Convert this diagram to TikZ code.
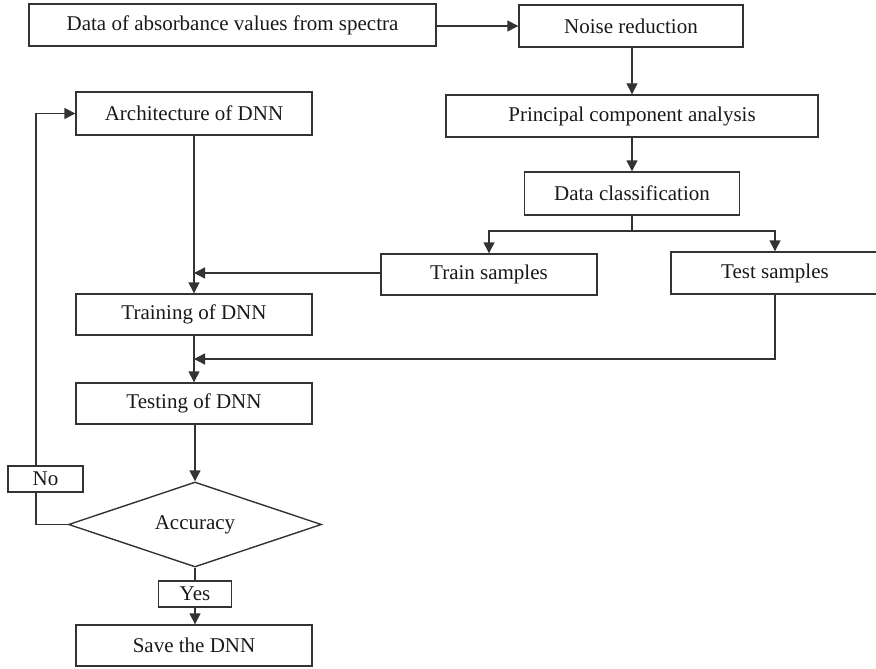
\documentclass[tikz,border=0pt]{standalone}
\usepackage{fontspec}
\setmainfont{Liberation Serif}
\usetikzlibrary{arrows.meta,shapes.geometric}
\begin{document}
\begin{tikzpicture}[x=1pt,y=-1pt,
  every node/.style={font=\fontsize{21}{24}\selectfont, text=black!90},
  box/.style={draw=black!80, line width=1.4pt, rectangle, inner sep=0pt, anchor=center},
  lbl/.style={draw=black!80, line width=1.4pt, rectangle, inner sep=0pt, minimum width=75pt, minimum height=26pt},
  dec/.style={draw=black!80, line width=1.4pt, diamond, aspect=3, inner sep=0pt, minimum width=253pt, minimum height=85pt},
  conn/.style={draw=black!80, line width=1.4pt},
  arr/.style={conn, -{Triangle[length=11pt,width=11pt]}}
]
\useasboundingbox (0,0) rectangle (876,669);
\node[box, minimum width=407pt, minimum height=42pt] (src) at (232.5,25) {Data of absorbance values from spectra};
\node[box, minimum width=224pt, minimum height=42pt] (noise) at (631,26) {Noise reduction};
\node[box, minimum width=236pt, minimum height=43pt] (arch) at (194,113.5) {Architecture of DNN};
\node[box, minimum width=372pt, minimum height=42pt] (pca) at (632,116) {Principal component analysis};
\node[box, minimum width=215pt, minimum height=43pt] (dc) at (632,193.5) {Data classification};
\node[box, minimum width=216pt, minimum height=41pt] (train) at (489,274.5) {Train samples};
\node[box, minimum width=208pt, minimum height=42pt] (test) at (775,273) {Test samples};
\node[box, minimum width=236pt, minimum height=41pt] (training) at (194,314.5) {Training of DNN};
\node[box, minimum width=236pt, minimum height=41pt] (testing) at (194,403.5) {Testing of DNN};
\node[dec] (acc) at (195,524.5) {Accuracy};
\node[lbl] (no) at (45.5,479) {No};
\node[lbl, minimum width=73pt] (yes) at (195,594) {Yes};
\node[box, minimum width=236pt, minimum height=41pt] (save) at (194,645.5) {Save the DNN};

\coordinate (split) at (632,231);
\coordinate (trainin) at (194,273);
\coordinate (testin) at (194,359);
\coordinate (lefttop) at (36,113.5);
\coordinate (leftbot) at (36,524.5);

\draw[arr] (src.east |- noise.west) -- (noise.west);
\draw[arr] (noise.south -| pca.north) -- (pca.north);
\draw[arr] (pca.south -| dc.north) -- (dc.north);
\draw[conn] (dc.south) -- (split);
\draw[arr] (split) -| (train.north);
\draw[arr] (split) -| (test.north);
\draw[arr] (arch.south) -- (training.north);
\draw[arr] (train.west |- trainin) -- (trainin);
\draw[arr] (test.south) |- (testin);
\draw[arr] (training.south) -- (testing.north);
\draw[arr] (testing.south -| acc.north) -- (acc.north);
\draw[conn] (acc.west) -- (leftbot) -- (no.south -| leftbot);
\draw[arr] (no.north -| lefttop) -- (lefttop) -- (arch.west);
\draw[conn] (acc.south) -- (yes.north);
\draw[arr] (yes.south) -- (yes.south |- save.north);
\end{tikzpicture}
\end{document}
